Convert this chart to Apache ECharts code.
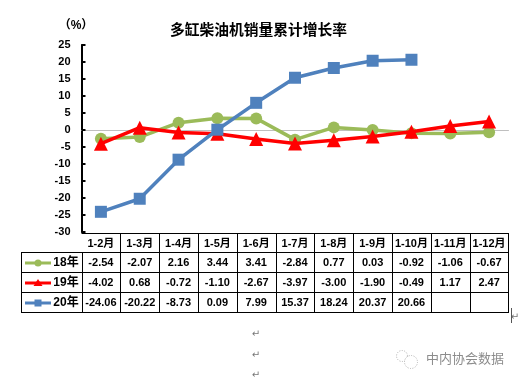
<!DOCTYPE html>
<html>
<head>
<meta charset="utf-8">
<style>
html, body { margin: 0; padding: 0; background: #fff; }
#chart { width: 520px; height: 382px; }
</style>
<script src="https://cdn.jsdelivr.net/npm/echarts@6/dist/echarts.min.js"></script>
</head>
<body>
<div id="chart"></div>
<script>
var categories = ['1-2月', '1-3月', '1-4月', '1-5月', '1-6月', '1-7月', '1-8月', '1-9月', '1-10月', '1-11月', '1-12月'];
var seriesNames = ['18年', '19年', '20年'];
var values18 = [-2.54, -2.07, 2.16, 3.44, 3.41, -2.84, 0.77, 0.03, -0.92, -1.06, -0.67];
var values19 = [-4.02, 0.68, -0.72, -1.10, -2.67, -3.97, -3.00, -1.90, -0.49, 1.17, 2.47];
var values20 = [-24.06, -20.22, -8.73, 0.09, 7.99, 15.37, 18.24, 20.37, 20.66, null, null];
var allValues = [values18, values19, values20];
var colors = ['#9BBB59', '#FF0000', '#4F81BD'];
var symbols = ['circle', 'triangle', 'rect'];
var symbolSizes = [12, 14, 12];

var FONT = '"Liberation Sans", "Noto Sans CJK SC", sans-serif';
var gridLeft = 81.5, gridRight = 508.5, gridTop = 45, gridBottom = 232;
var tableLeft = 21.5;
var rowY = [233, 252, 272, 292, 312];
var colW = (gridRight - gridLeft) / categories.length;

// 下方数据表，用 graphic 画
var graphics = [];

function hLine(x1, x2, y) {
    graphics.push({ type: 'line', silent: true, shape: { x1: x1, y1: y, x2: x2, y2: y }, style: { stroke: '#000', lineWidth: 1 } });
}
function vLine(x, y1, y2) {
    graphics.push({ type: 'line', silent: true, shape: { x1: x, y1: y1, x2: x, y2: y2 }, style: { stroke: '#000', lineWidth: 1 } });
}
function cellText(text, x, y, size) {
    graphics.push({
        type: 'text', silent: true, x: x, y: y,
        style: { text: text, font: 'bold ' + (size || 11) + 'px ' + FONT, fill: '#000', align: 'center', verticalAlign: 'middle' }
    });
}
function freeText(text, x, y, font, fill) {
    graphics.push({
        type: 'text', silent: true, x: x, y: y,
        style: { text: text, font: font, fill: fill, align: 'center', verticalAlign: 'middle' }
    });
}

hLine(gridLeft, gridRight, rowY[0] + 0.5);
rowY.slice(1).forEach(function (y) { hLine(tableLeft, gridRight, y + 0.5); });
vLine(tableLeft, rowY[1], rowY[4] + 1);
categories.forEach(function (c, i) {
    vLine(Math.round(gridLeft + colW * i) + 0.5, i === 0 ? rowY[1] : rowY[0], rowY[4] + 1);
    cellText(c, gridLeft + colW * (i + 0.5), (rowY[0] + rowY[1]) / 2 + 1);
});
vLine(gridRight, rowY[0], rowY[4] + 1);

seriesNames.forEach(function (name, r) {
    var cy = (rowY[r + 1] + rowY[r + 2]) / 2 + 1;
    cellText(name, 66, cy, 12);
    graphics.push({ type: 'line', silent: true, shape: { x1: 25, y1: cy, x2: 51, y2: cy }, style: { stroke: colors[r], lineWidth: 3 } });
    if (r === 0) {
        graphics.push({ type: 'circle', silent: true, shape: { cx: 38, cy: cy, r: 3.5 }, style: { fill: colors[r] } });
    } else if (r === 1) {
        graphics.push({ type: 'polygon', silent: true, shape: { points: [[38, cy - 4], [42.5, cy + 3], [33.5, cy + 3]] }, style: { fill: colors[r] } });
    } else {
        graphics.push({ type: 'rect', silent: true, shape: { x: 34.5, y: cy - 3.5, width: 7, height: 7 }, style: { fill: colors[r] } });
    }
    allValues[r].forEach(function (v, i) {
        if (v !== null) cellText(v.toFixed(2), gridLeft + colW * (i + 0.5), cy);
    });
});

// 单位、段落符、水印
freeText('（%）', 76, 26, 'bold 12px ' + FONT, '#000');
freeText('↵', 256, 334, '10px "DejaVu Sans"', '#777');
freeText('↵', 256, 355, '10px "DejaVu Sans"', '#777');
freeText('↵', 256, 375, '10px "DejaVu Sans"', '#777');
freeText('↵', 515, 317, '10px "DejaVu Sans"', '#777');
vLine(511.5, 308, 323);
graphics[graphics.length - 1].style.stroke = '#555';
freeText('中内协会数据', 465, 358, '13px "Noto Sans CJK SC"', '#8c8c8c');
graphics.push({ type: 'circle', silent: true, shape: { cx: 402, cy: 356, r: 5.5 }, style: { fill: '#fff', stroke: '#b0b0b0', lineWidth: 1, lineDash: [1, 1.5] } });
graphics.push({ type: 'circle', silent: true, shape: { cx: 411, cy: 362, r: 6.5 }, style: { fill: '#fff', stroke: '#b0b0b0', lineWidth: 1, lineDash: [1, 1.5] } });

var chart = echarts.init(document.getElementById('chart'), null, { renderer: 'canvas' });
chart.setOption({
    backgroundColor: '#fff',
    animation: false,
    title: {
        text: '多缸柴油机销量累计增长率',
        left: 170,
        top: 22,
        padding: 0,
        textStyle: { fontFamily: '"Noto Sans CJK SC"', fontSize: 14.75, fontWeight: 'bold', color: '#000' }
    },
    grid: { left: gridLeft, top: gridTop, width: gridRight - gridLeft, height: gridBottom - gridTop },
    xAxis: {
        type: 'category',
        data: categories,
        boundaryGap: true,
        axisLine: { onZero: true, lineStyle: { color: '#BFBFBF', width: 1 } },
        axisTick: { show: false },
        axisLabel: { show: false },
        splitLine: { show: false }
    },
    yAxis: {
        type: 'value',
        min: -30,
        max: 25,
        interval: 5,
        axisLine: { show: true, onZero: false, lineStyle: { color: '#000', width: 2 } },
        axisTick: { show: true, inside: true, length: 4, lineStyle: { color: '#000', width: 2 } },
        axisLabel: { color: '#000', fontFamily: FONT, fontSize: 11, fontWeight: 'bold', margin: 11 },
        splitLine: { show: false }
    },
    series: seriesNames.map(function (name, r) {
        return {
            name: name,
            type: 'line',
            data: allValues[r],
            symbol: symbols[r],
            symbolSize: symbolSizes[r],
            showSymbol: true,
            connectNulls: false,
            z: 3 + r,
            lineStyle: { color: colors[r], width: 3.5 },
            itemStyle: { color: colors[r] }
        };
    }),
    graphic: graphics
});
</script>
</body>
</html>
